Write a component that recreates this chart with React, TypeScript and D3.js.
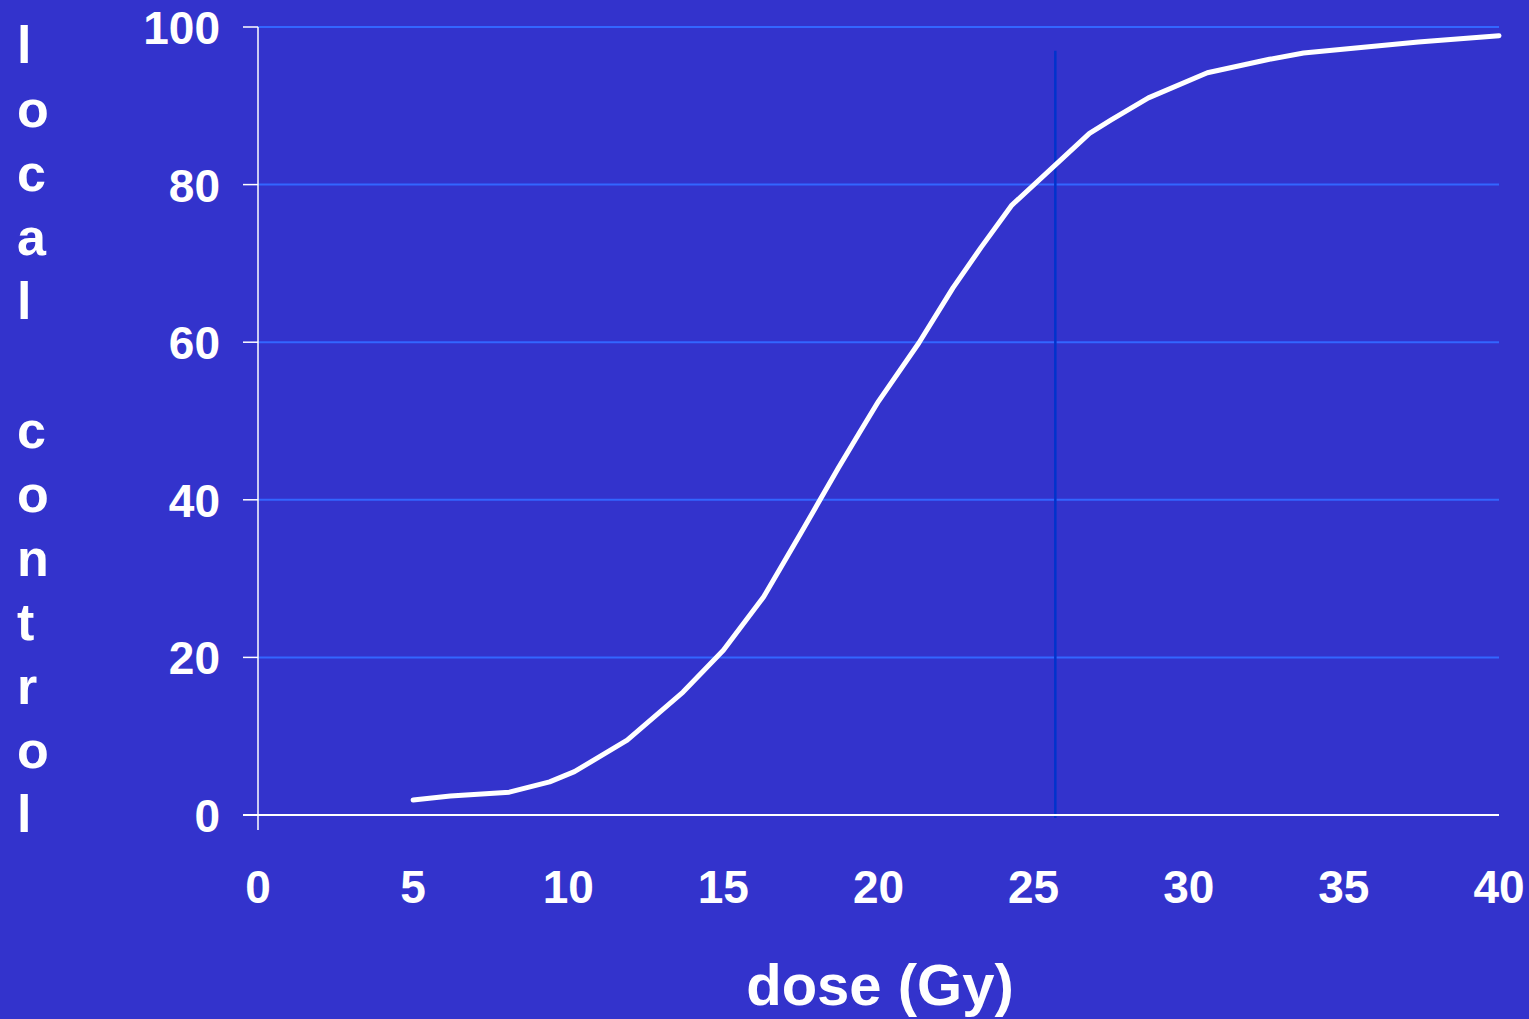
import React from "react";
import * as d3 from "d3";

// Dose–response curve: local tumour control vs. dose
const doses = [5, 6.2, 8.1, 9.4, 10.2, 11.9, 13.7, 15.0, 16.3, 17.5, 18.0, 18.7, 19.4, 20.0, 21.3, 22.4, 23.3, 24.3, 26.8, 27.5, 28.7, 30.6, 32.6, 33.7, 37.4, 40];
const localControl = [1.9, 2.4, 2.9, 4.2, 5.5, 9.5, 15.6, 20.9, 27.7, 35.8, 39.2, 44.0, 48.6, 52.5, 59.9, 66.9, 72.0, 77.4, 86.5, 88.2, 91.0, 94.2, 95.9, 96.7, 98.1, 98.9];

const xTicks = [0, 5, 10, 15, 20, 25, 30, 35, 40];
const yTicks = [0, 20, 40, 60, 80, 100];
const gridTicks = [20, 40, 60, 80, 100];

// Reference dose marker and its top value
const markerDose = 25.7;
const markerTop = 97;

const yTitle = "local control";
const xTitle = "dose (Gy)";

const W = 1529;
const H = 1019;
const FONT = "'Liberation Sans', Arial, Helvetica, sans-serif";

export default function App() {
  const x = d3.scaleLinear().domain([0, 40]).range([258, 1499]);
  const y = d3.scaleLinear().domain([0, 100]).range([815, 27]);

  const points = doses.map((d, i) => [d, localControl[i]] as [number, number]);
  const line = d3
    .line<[number, number]>()
    .x((d) => x(d[0]))
    .y((d) => y(d[1]))
    .curve(d3.curveLinear);

  const letters = yTitle.split("");

  return (
    <svg
      width={W}
      height={H}
      style={{ position: "fixed", left: 0, top: 0, display: "block" }}
      fontFamily={FONT}
    >
      <rect x={0} y={0} width={W} height={H} fill="#3333CC" />

      {/* horizontal grid */}
      {gridTicks.map((t) => (
        <line key={`g${t}`} x1={x(0)} x2={x(40)} y1={y(t)} y2={y(t)} stroke="#3366FF" strokeWidth={2} />
      ))}

      {/* reference dose marker */}
      <line x1={x(markerDose)} x2={x(markerDose)} y1={y(markerTop)} y2={y(0) + 3} stroke="#0033CC" strokeWidth={2.5} />

      {/* axes */}
      <line x1={x(0)} x2={x(0)} y1={y(100)} y2={y(0) + 15} stroke="#FFFFFF" strokeWidth={1.5} />
      <line x1={x(0) - 15} x2={x(40)} y1={y(0)} y2={y(0)} stroke="#FFFFFF" strokeWidth={2} />
      {yTicks.map((t) => (
        <line key={`t${t}`} x1={x(0) - 15} x2={x(0)} y1={y(t)} y2={y(t)} stroke="#FFFFFF" strokeWidth={1.5} />
      ))}

      {/* y tick labels */}
      {yTicks.map((t) => (
        <text
          key={`yl${t}`}
          x={220}
          y={y(t) + 17}
          textAnchor="end"
          fill="#FFFFFF"
          fontWeight="bold"
          fontSize={46}
        >
          {t}
        </text>
      ))}

      {/* x tick labels */}
      {xTicks.map((t) => (
        <text
          key={`xl${t}`}
          x={x(t)}
          y={903}
          textAnchor="middle"
          fill="#FFFFFF"
          fontWeight="bold"
          fontSize={46}
        >
          {t}
        </text>
      ))}

      {/* curve */}
      <path d={line(points) ?? ""} fill="none" stroke="#FFFFFF" strokeWidth={5} strokeLinecap="round" strokeLinejoin="round" />

      {/* y axis title, stacked letters */}
      {letters.map((c, i) => (
        <text key={`yt${i}`} x={17} y={63 + i * 64.1} fill="#FFFFFF" fontWeight="bold" fontSize={52}>
          {c}
        </text>
      ))}

      {/* x axis title */}
      <text x={880} y={1005} textAnchor="middle" fill="#FFFFFF" fontWeight="bold" fontSize={58}>
        {xTitle}
      </text>
    </svg>
  );
}
